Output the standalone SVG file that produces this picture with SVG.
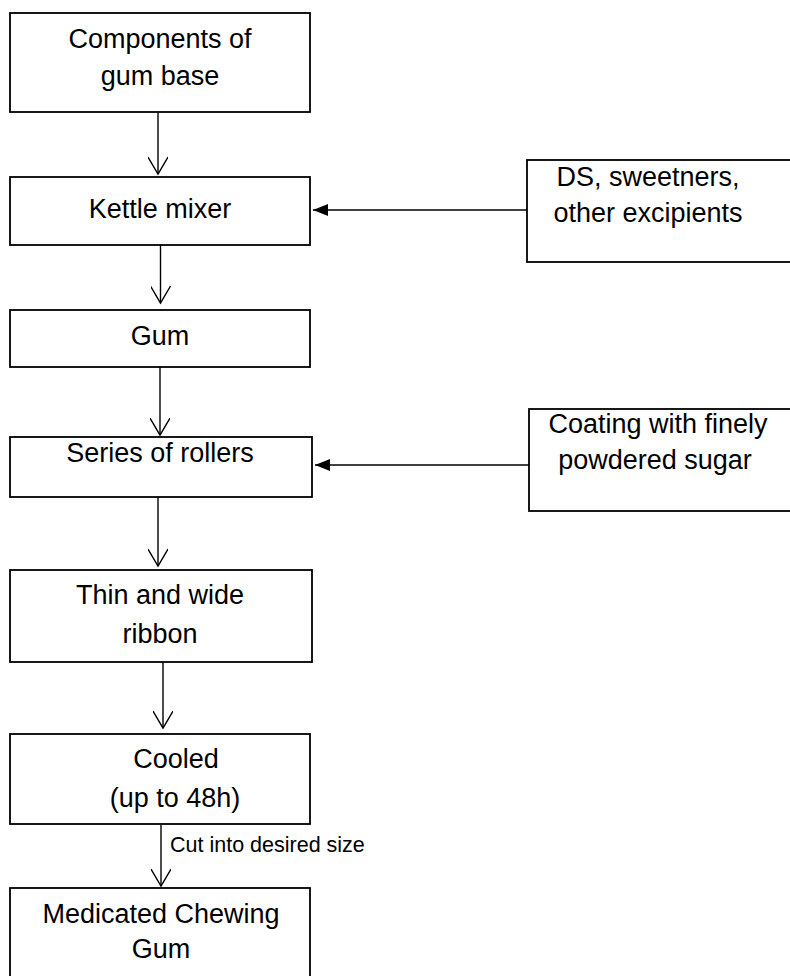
<svg xmlns="http://www.w3.org/2000/svg" width="790" height="976" viewBox="0 0 790 976">
  <defs>
    <style>
      .box { fill: #ffffff; stroke: #000000; stroke-width: 1.8; }
      .lbl { font-family: "Liberation Sans", Arial, sans-serif; font-size: 27px; fill: #000000; text-anchor: middle; }
      .small { font-family: "Liberation Sans", Arial, sans-serif; font-size: 21.5px; fill: #000000; }
      .flow { fill: none; stroke: #000000; stroke-width: 1.4; }
      .feed { fill: none; stroke: #000000; stroke-width: 1.6; }
    </style>
    <marker id="open" markerWidth="22" markerHeight="20" refX="18" refY="10" orient="auto" markerUnits="userSpaceOnUse">
      <path d="M1,0 L18,10 L1,20" fill="none" stroke="#000000" stroke-width="1.4"/>
    </marker>
    <marker id="solid" markerWidth="16" markerHeight="14" refX="15" refY="7" orient="auto" markerUnits="userSpaceOnUse">
      <path d="M0,1 L15,7 L0,13 Z" fill="#000000"/>
    </marker>
  </defs>

  <rect width="790" height="976" fill="#ffffff"/>

  <g id="connectors">
    <line class="flow" x1="158" y1="113" x2="158" y2="174" marker-end="url(#open)"/>
    <line class="flow" x1="160.5" y1="245" x2="160.5" y2="303" marker-end="url(#open)"/>
    <line class="flow" x1="160" y1="367" x2="160" y2="435" marker-end="url(#open)"/>
    <line class="flow" x1="158" y1="497" x2="158" y2="566" marker-end="url(#open)"/>
    <line class="flow" x1="163" y1="662" x2="163" y2="728" marker-end="url(#open)"/>
    <line class="flow" x1="161" y1="825" x2="161" y2="886" marker-end="url(#open)"/>
    <line class="feed" x1="527" y1="210" x2="313" y2="210" marker-end="url(#solid)"/>
    <line class="feed" x1="529" y1="465" x2="315" y2="465" marker-end="url(#solid)"/>
    <text class="small" x="170" y="852">Cut into desired size</text>
  </g>

  <g id="gum-base">
    <rect class="box" x="10" y="13" width="300" height="99"/>
    <text class="lbl" x="160" y="48">Components of</text>
    <text class="lbl" x="160" y="85">gum base</text>
  </g>

  <g id="kettle-mixer">
    <rect class="box" x="10" y="177" width="300" height="68"/>
    <text class="lbl" x="160" y="218">Kettle mixer</text>
  </g>

  <g id="additives">
    <rect class="box" x="527" y="160" width="270" height="102"/>
    <text class="lbl" x="648" y="186">DS, sweetners,</text>
    <text class="lbl" x="648" y="222">other excipients</text>
  </g>

  <g id="gum">
    <rect class="box" x="10" y="310" width="300" height="57"/>
    <text class="lbl" x="160" y="345">Gum</text>
  </g>

  <g id="rollers">
    <rect class="box" x="10" y="437" width="302" height="60"/>
    <text class="lbl" x="160" y="462">Series of rollers</text>
  </g>

  <g id="coating">
    <rect class="box" x="529" y="409" width="270" height="102"/>
    <text class="lbl" x="658" y="433">Coating with finely</text>
    <text class="lbl" x="655" y="469">powdered sugar</text>
  </g>

  <g id="ribbon">
    <rect class="box" x="10" y="570" width="302" height="92"/>
    <text class="lbl" x="160" y="604">Thin and wide</text>
    <text class="lbl" x="160" y="643">ribbon</text>
  </g>

  <g id="cooled">
    <rect class="box" x="10" y="734" width="300" height="90"/>
    <text class="lbl" x="176" y="768">Cooled</text>
    <text class="lbl" x="175" y="807">(up to 48h)</text>
  </g>

  <g id="chewing-gum">
    <rect class="box" x="10" y="888" width="300" height="100"/>
    <text class="lbl" x="161" y="923">Medicated Chewing</text>
    <text class="lbl" x="161" y="958">Gum</text>
  </g>
</svg>
